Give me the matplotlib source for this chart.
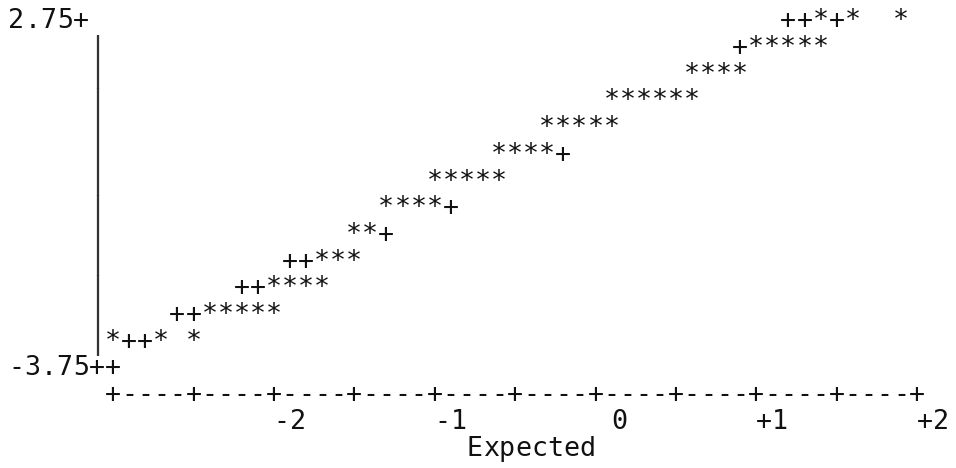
import matplotlib
matplotlib.use("Agg")
import matplotlib.pyplot as plt

# Normal probability plot, line-printer style.
# Observed values (one '*' per plotted cell) against expected normal quantiles.
star_expected = [
    1.25, 1.45, 1.75,
    0.85, 0.95, 1.05, 1.15, 1.25,
    0.45, 0.55, 0.65, 0.75,
    -0.05, 0.05, 0.15, 0.25, 0.35, 0.45,
    -0.45, -0.35, -0.25, -0.15, -0.05,
    -0.75, -0.65, -0.55, -0.45,
    -1.15, -1.05, -0.95, -0.85, -0.75,
    -1.45, -1.35, -1.25, -1.15,
    -1.65, -1.55,
    -1.85, -1.75, -1.65,
    -2.15, -2.05, -1.95, -1.85,
    -2.55, -2.45, -2.35, -2.25, -2.15,
    -3.15, -2.85, -2.65,
]
star_observed = (
    [2.75] * 3 + [2.25] * 5 + [1.75] * 4 + [1.25] * 6 + [0.75] * 5
    + [0.25] * 4 + [-0.25] * 5 + [-0.75] * 4 + [-1.25] * 2 + [-1.75] * 3
    + [-2.25] * 4 + [-2.75] * 5 + [-3.25] * 3
)

# Reference normal line, shown as '+' where it is not hidden by data
ref_expected = [1.05, 1.15, 1.35, 0.75, -0.35, -1.05, -1.45,
                -2.05, -1.95, -2.35, -2.25, -2.75, -2.65, -3.05, -2.95, -3.15]
ref_observed = [2.75, 2.75, 2.75, 2.25, 0.25, -0.75, -1.25,
                -1.75, -1.75, -2.25, -2.25, -2.75, -2.75, -3.25, -3.25, -3.75]

# Axis annotation
y_top_label, y_bottom_label = "2.75", "-3.75"
x_ticks = [-2, -1, 0, 1, 2]
x_tick_labels = ["-2", "-1", "0", "+1", "+2"]
x_title = "Expected"

# Character cell geometry in data units
COL = 0.1      # one column along the expected axis
ROW = 0.5      # one line along the observed axis
TOP = 2.75     # observed value of the first line
X0 = -3.15     # expected value of the first plot column


def col_x(k):
    return X0 + k * COL


def row_y(r):
    return TOP - r * ROW


FONT = dict(family="DejaVu Sans Mono", size=19.2, color="#111111",
            ha="center", va="baseline")

fig = plt.figure(figsize=(9.56, 4.68), dpi=100)
ax = fig.add_axes([0, 0, 1, 1])
ax.set_xlim(-3.8526, 2.0927)
ax.set_ylim(-5.484, 3.28)
ax.axis("off")


def put(x, y, s, **kw):
    # one glyph per character cell
    style = {**FONT, **kw}
    for i, ch in enumerate(s):
        if ch != " ":
            ax.text(x + i * COL, y, ch, **style)


# data and reference line
for xe, yo in zip(ref_expected, ref_observed):
    ax.text(xe, yo, "+", **FONT)
for xe, yo in zip(star_expected, star_observed):
    ax.text(xe, yo, "*", **FONT)

# vertical axis
put(col_x(-6), row_y(0), y_top_label + "+")
for r in range(1, 13):
    put(col_x(-1), row_y(r), "|", color="#333333")
put(col_x(-1) - len(y_bottom_label) * COL, row_y(13), y_bottom_label + "+")

# horizontal axis
put(col_x(0), row_y(14), "+" + "----+" * 10)
for v, lab in zip(x_ticks, x_tick_labels):
    put(v - (len(lab) - 1) * COL, row_y(15), lab)
put(-0.9, row_y(16), x_title)

fig.savefig("out.png", dpi=100, facecolor="white")
